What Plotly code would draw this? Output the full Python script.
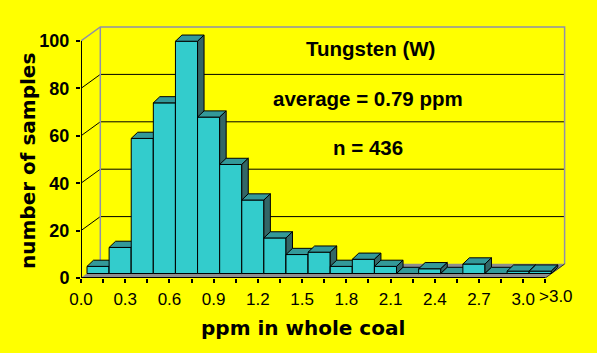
import plotly.graph_objects as go

# ---------------- data ----------------
x_tick_labels = ["0.0", "0.3", "0.6", "0.9", "1.2", "1.5", "1.8", "2.1", "2.4", "2.7", "3.0"]
last_bin_label = ">3.0"
counts = [3, 11, 57, 72, 98, 66, 46, 31, 15, 8, 9, 3, 6, 3, 0, 2, 0, 4, 0, 1, 1]
y_ticks = [0, 20, 40, 60, 80, 100]
title_text = "Tungsten (W)"
avg_text = "average = 0.79 ppm"
n_text = "n = 436"
x_title = "ppm in whole coal"
y_title = "number of samples"

# ---------------- geometry (style) ----------------
W, H = 597, 353
L_PX, T_PX, R_PX, B_PX = 81, 20, 577, 278
X_UNIT = 22.11   # px per bin
Y_UNIT = 2.37    # px per count
x_range = [0, (R_PX - L_PX) / X_UNIT]
y_range = [0, (B_PX - T_PX) / Y_UNIT]

DX, DY = 19.3 / X_UNIT, 14.0 / Y_UNIT          # full depth offset
BFX, BFY = 6.0 / X_UNIT, 4.5 / Y_UNIT          # bar front offset
BDX, BDY = 6.5 / X_UNIT, 6.2 / Y_UNIT          # bar depth
N = len(counts)
YMAX = y_ticks[-1]

FRONT = "#33CCCC"
TOP = "#339999"
SIDE = "#336666"
FLOOR = "#8E8E8E"
WALL_EDGE = "#9090A8"

fig = go.Figure()

def poly(xs, ys, fill=None, line_color="black", width=1, clip=True):
    fig.add_trace(go.Scatter(
        x=xs, y=ys, mode="lines",
        fill="toself" if fill else None,
        fillcolor=fill,
        line=dict(color=line_color, width=width),
        hoverinfo="skip", showlegend=False, cliponaxis=clip))

# gridlines on side wall and back wall
gx, gy = [], []
for v in y_ticks[1:-1]:
    gx += [0, DX, N + DX, None]
    gy += [v, v + DY, v + DY, None]
poly(gx, gy, line_color="black", width=1)

# wall border
poly([0, DX, N + DX, N + DX, None, DX, DX],
     [YMAX, YMAX + DY, YMAX + DY, DY, None, YMAX + DY, DY],
     line_color=WALL_EDGE, width=1.5)

# floor
poly([0, N, N + DX, DX, 0], [0, 0, DY, DY, 0], fill=FLOOR, line_color=FLOOR, width=0.5)
poly([N, N + DX], [0, DY], line_color="#333333", width=1, clip=False)

# bars (painter's order left to right)
for i, v in enumerate(counts):
    x0 = i + BFX
    x1 = i + 1 + BFX
    y0 = BFY
    y1 = BFY + v
    poly([x0, x1, x1, x0, x0], [y0, y0, y1, y1, y0], fill=FRONT)
    poly([x0, x1, x1 + BDX, x0 + BDX, x0], [y1, y1, y1 + BDY, y1 + BDY, y1], fill=TOP)
    poly([x1, x1 + BDX, x1 + BDX, x1, x1], [y0, y0 + BDY, y1 + BDY, y1, y0], fill=SIDE)

# front axis lines
poly([0, N], [0, 0], line_color="black", width=2, clip=False)
poly([0, 0], [0, YMAX], line_color="black", width=2, clip=False)

def px_to_paper(px, py):
    return (px - L_PX) / (R_PX - L_PX), (B_PX - py) / (B_PX - T_PX)

annos = []
def text(px, py, s, font, angle=0):
    ax, ay = px_to_paper(px, py)
    annos.append(dict(x=ax, y=ay, xref="paper", yref="paper", text=s, showarrow=False,
                      xanchor="center", yanchor="middle", textangle=angle, font=font))

body_font = dict(family="Liberation Sans, Arial", size=20.5, color="black")
title_font = dict(family="DejaVu Sans", size=20, color="black")
tick_font_x = dict(family="Liberation Sans, Arial", size=17, color="black")

text(370, 49, "<b>%s</b>" % title_text, body_font)
text(368, 98, "<b>%s</b>" % avg_text, body_font)
text(368, 147, "<b>%s</b>" % n_text, body_font)
text(303, 328, "<b>%s</b>" % x_title, title_font)
text(28, 161, "<b>%s</b>" % y_title, title_font, angle=-90)

# last category label placed just right of the final tick
annos.append(dict(x=N + 0.5, y=0, xref="x", yref="y", yshift=-18, text=last_bin_label,
                  showarrow=False, xanchor="center", yanchor="middle", font=tick_font_x))

tickvals_x = list(range(N + 1))
ticktext_x = [x_tick_labels[k // 2] if (k % 2 == 0 and k // 2 < len(x_tick_labels)) else ""
              for k in tickvals_x]

fig.update_layout(
    width=W, height=H,
    margin=dict(l=L_PX, r=W - R_PX, t=T_PX, b=H - B_PX, pad=0),
    paper_bgcolor="#FFFF00", plot_bgcolor="rgba(0,0,0,0)",
    annotations=annos,
    xaxis=dict(range=x_range, showgrid=False, zeroline=False, showline=False,
               tickmode="array", tickvals=tickvals_x, ticktext=ticktext_x,
               ticks="outside", ticklen=4, tickwidth=1.5, tickcolor="black",
               tickfont=tick_font_x, ticklabelstandoff=2, fixedrange=True),
    yaxis=dict(range=y_range, showgrid=False, zeroline=False, showline=False,
               tickmode="array", tickvals=y_ticks,
               ticks="outside", ticklen=4, tickwidth=2, tickcolor="black",
               tickfont=dict(family="Liberation Sans, Arial", size=18, color="black", weight="bold"),
               ticklabelstandoff=3, fixedrange=True),
)

fig.write_html("out.html", config={"displayModeBar": False})
